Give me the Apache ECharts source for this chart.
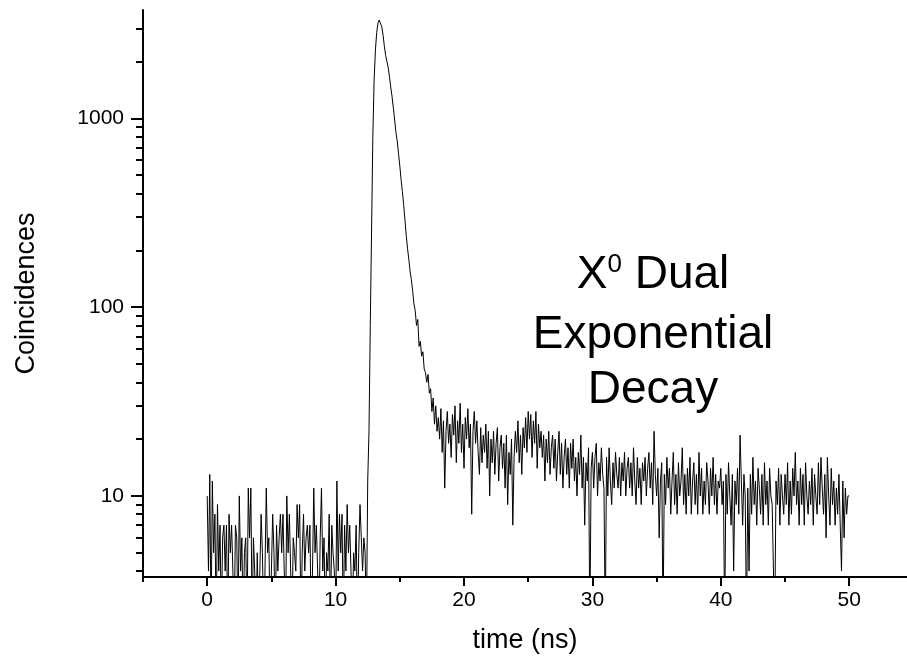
<!DOCTYPE html>
<html>
<head>
<meta charset="utf-8">
<title>X0 dual exponential decay</title>
<script src="https://cdn.jsdelivr.net/npm/echarts@6/dist/echarts.min.js"></script>
<style>
html,body{margin:0;padding:0;background:#fff;}
#chart{width:907px;height:664px;}
</style>
</head>
<body>
<div id="chart"></div>
<script>
// histogram bins, 0.1 ns wide, first bin at 0 ns
var binStart = 0;
var binWidth = 0.1;

// 0.0 - 12.4 ns, background before the pulse
var countsBaseline = [10,4,13,2,12,5,8,2,9,4,
  7,2,6,7,4,7,2,8,5,7,
  4,2,7,6,2,10,4,6,2,5,
  6,2,11,6,11,2,6,4,2,5,
  2,4,8,5,2,4,11,5,6,2,
  4,8,5,2,7,4,6,8,5,8,
  4,2,10,5,8,4,2,6,5,4,
  9,6,9,2,5,8,4,6,7,5,
  7,2,4,11,5,7,4,2,6,11,
  4,6,2,5,4,8,2,7,5,4,
  2,12,4,8,5,8,2,7,4,9,
  5,7,4,2,5,4,7,2,5,9,
  6,4,6,5,2];

// 12.5 - 17.9 ns, rise and fast decay
var countsPeak = [12,22,80,250,800,
  1600,2300,2850,3200,3320,3250,3050,2750,2400,2150,
  2000,1850,1650,1450,1300,1130,980,840,760,650,
  560,475,410,350,290,240,205,180,155,140,
  122,104,96,80,86,62,66,55,58,47,
  45,40,44,35,37,28,33,24,30,22];

// 18.0 - 50.0 ns, slow tail
var countsTail = [26,20,29,17,25,11,22,28,19,24,
  16,27,21,30,15,25,19,31,17,24,
  14,26,20,29,18,24,8,22,28,19,
  25,17,13,23,15,21,17,24,14,22,
  10,20,15,22,13,19,23,12,18,21,
  14,19,11,21,9,17,13,20,7,16,
  22,17,25,15,21,13,23,18,26,17,
  28,20,27,16,25,19,28,14,24,18,
  22,16,21,12,20,15,22,13,18,21,
  14,20,12,17,22,13,19,11,16,20,
  13,18,11,19,14,20,12,16,10,17,
  13,21,11,16,7,15,12,18,2,14,
  17,11,16,19,10,15,12,18,13,11,
  2,16,10,18,12,9,15,11,17,13,
  11,16,10,15,12,17,10,14,16,11,
  15,10,18,12,9,16,11,14,9,15,
  12,16,10,14,17,11,15,9,22,13,
  10,14,6,12,15,2,13,9,16,11,
  14,8,12,17,9,13,8,15,10,12,
  18,9,13,8,14,10,16,8,12,15,
  9,13,8,17,10,14,8,12,9,15,
  12,8,14,10,16,9,13,8,12,11,
  14,9,12,2,13,8,15,10,7,13,
  4,12,9,14,8,21,12,7,13,10,
  2,11,4,13,8,16,9,12,7,14,
  11,8,13,7,15,9,12,7,14,10,
  9,4,2,12,9,14,7,13,10,8,
  13,9,15,7,12,8,14,10,17,9,
  12,7,14,9,13,7,15,10,8,12,
  9,14,7,13,10,8,15,9,16,11,
  8,13,6,16,10,7,14,9,12,7,
  11,8,13,7,4,12,6,11,8,10,
  10];

var xLabelValues = [0,10,20,30,40,50];
var xMinorValues = [-5,5,15,25,35,45];
var yLabelValues = [10,100,1000];
var yMinorValues = [4,5,6,7,8,9,20,30,40,50,60,70,80,90,
  200,300,400,500,600,700,800,900,2000,3000];

var FONT = 'Liberation Sans, Arial, sans-serif';

var counts = countsBaseline.concat(countsPeak, countsTail);
var seriesData = counts.map(function(c, i){
  return [+(binStart + i*binWidth).toFixed(2), c];
});

var plain = function(v){ return String(v); };

var option = {
  animation: false,
  backgroundColor: '#fff',
  grid: {left:143, right:0, top:10, bottom:87},
  xAxis: [{
    type:'value', min:-5, max:54.5, position:'bottom',
    axisLine: {onZero:false, lineStyle:{color:'#000', width:2}},
    axisTick: {customValues:xLabelValues, length:9, lineStyle:{color:'#000', width:2}},
    axisLabel: {customValues:xLabelValues, formatter:plain, fontSize:21, color:'#000', fontFamily:FONT, margin:13},
    splitLine: {show:false},
    name: 'time (ns)', nameLocation:'middle', nameGap:50,
    nameTextStyle: {fontSize:27, color:'#000', fontFamily:FONT}
  },{
    type:'value', min:-5, max:54.5, position:'bottom',
    axisLine: {show:false, onZero:false},
    axisTick: {customValues:xMinorValues, length:5, lineStyle:{color:'#000', width:2}},
    axisLabel: {show:false},
    splitLine: {show:false}
  }],
  yAxis: [{
    type:'log', logBase:10, min:3.72, max:3750, position:'left',
    axisLine: {onZero:false, lineStyle:{color:'#000', width:2}},
    axisTick: {customValues:yLabelValues, length:12, lineStyle:{color:'#000', width:2}},
    axisLabel: {customValues:yLabelValues, formatter:plain, fontSize:21, color:'#000', fontFamily:FONT, margin:19},
    splitLine: {show:false},
    name: 'Coincidences', nameLocation:'middle', nameGap:103, nameRotate:90,
    nameTextStyle: {fontSize:27, color:'#000', fontFamily:FONT}
  },{
    type:'log', logBase:10, min:3.72, max:3750, position:'left',
    axisLine: {show:false, onZero:false},
    axisTick: {customValues:yMinorValues, length:7, lineStyle:{color:'#000', width:2}},
    axisLabel: {show:false},
    splitLine: {show:false}
  }],
  series: [{
    type:'line', xAxisIndex:0, yAxisIndex:0,
    data: seriesData,
    showSymbol:false, symbol:'none',
    lineStyle: {color:'#000', width:1},
    clip:true
  }],
  graphic: [
    {type:'text', x:653, y:275, style:{
      text:'{a|X}{s|0}{a| Dual}', align:'center', verticalAlign:'middle',
      rich:{a:{fontSize:46, fontFamily:FONT, fill:'#000'},
            s:{fontSize:26, fontFamily:FONT, fill:'#000', verticalAlign:'top'}}
    }},
    {type:'text', x:653, y:335, style:{text:'Exponential', font:'46px ' + FONT, fill:'#000', align:'center', verticalAlign:'middle'}},
    {type:'text', x:653, y:390, style:{text:'Decay', font:'46px ' + FONT, fill:'#000', align:'center', verticalAlign:'middle'}}
  ]
};

var chart = echarts.init(document.getElementById('chart'));
chart.setOption(option);
</script>
</body>
</html>
